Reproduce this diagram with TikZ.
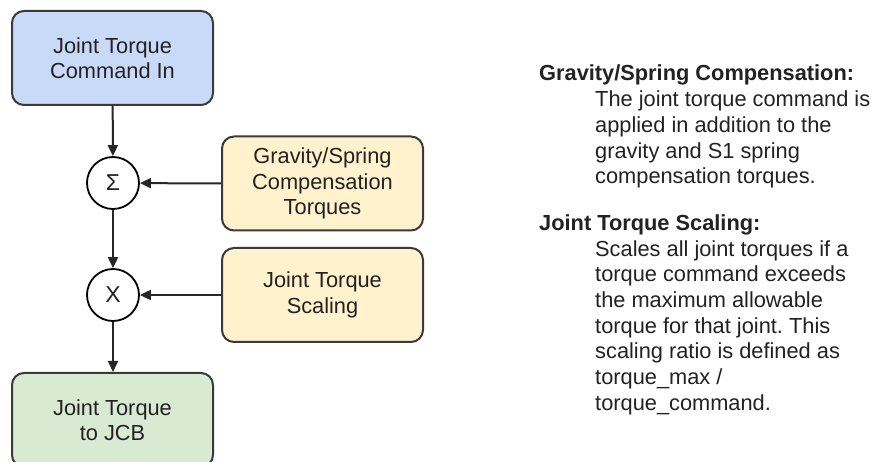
\documentclass[tikz,border=0pt]{standalone}
\usepackage{fontspec}
\setmainfont{Liberation Sans}
\usetikzlibrary{arrows.meta}
\frenchspacing

\definecolor{cmdblue}{HTML}{C9DAF8}
\definecolor{compyellow}{HTML}{FFF2CC}
\definecolor{outgreen}{HTML}{D9EAD3}
\definecolor{edgegray}{HTML}{3A3A3A}
\definecolor{inkgray}{HTML}{222222}

\tikzset{
  blockbox/.style={draw=edgegray, line width=2pt, rounded corners=12pt,
    minimum width=201pt, minimum height=94pt, align=center, text=inkgray,
    inner sep=0pt, font=\fontsize{21.8}{25.5}\selectfont},
  opcircle/.style={circle, draw=black, line width=1.8pt, fill=white,
    minimum size=52pt, inner sep=0pt, text=inkgray,
    font=\fontsize{23}{24}\selectfont},
  flow/.style={draw=black!85, line width=2pt,
    -{Triangle[length=11pt, width=10pt]}},
  headtext/.style={anchor=base west, inner sep=0pt, text=inkgray,
    font=\fontsize{21.8}{25.7}\selectfont\bfseries},
  bodytext/.style={anchor=base west, inner sep=0pt, text=inkgray,
    font=\fontsize{21.8}{25.7}\selectfont},
}

\begin{document}
\begin{tikzpicture}[x=1pt, y=-1pt]
  \useasboundingbox (0,0) rectangle (876,462);
  \fill[white] (0,0) rectangle (876,462);

  % signal chain
  \node[blockbox, fill=cmdblue] (cmd) at (112.5,58) {Joint Torque\\Command In};
  \node[opcircle] (sum) at (113,183) {Σ};
  \node[opcircle] (mult) at (113,295) {X};
  \node[blockbox, fill=outgreen] (out) at (112.5,420) {Joint Torque\\to JCB};

  % side inputs
  \node[blockbox, fill=compyellow] (comp) at (322.5,183.5) {Gravity/Spring\\Compensation\\Torques};
  \node[blockbox, fill=compyellow] (scale) at (322.5,295) {Joint Torque\\Scaling};

  \draw[flow] (cmd) -- (sum);
  \draw[flow] (sum) -- (mult);
  \draw[flow] (mult) -- (out.north -| mult);
  \draw[flow] (comp.west) -- (sum);
  \draw[flow] (scale.west) -- (mult);

  % notes
  \node[headtext] (comphead) at (539,81) {Gravity/Spring Compensation:};
  \node[bodytext] (compbody) at (595,106.7) {\parbox[t]{280pt}{\raggedright
    The joint torque command is\\
    applied in addition to the\\
    gravity and S1 spring\\
    compensation torques.}};
  \node[headtext] (scalehead) at (539,230.5) {Joint Torque Scaling:};
  \node[bodytext] (scalebody) at (595,256.2) {\parbox[t]{280pt}{\raggedright
    Scales all joint torques if a\\
    torque command exceeds\\
    the maximum allowable\\
    torque for that joint. This\\
    scaling ratio is defined as\\
    torque\_max /\\
    torque\_command.}};
\end{tikzpicture}
\end{document}
